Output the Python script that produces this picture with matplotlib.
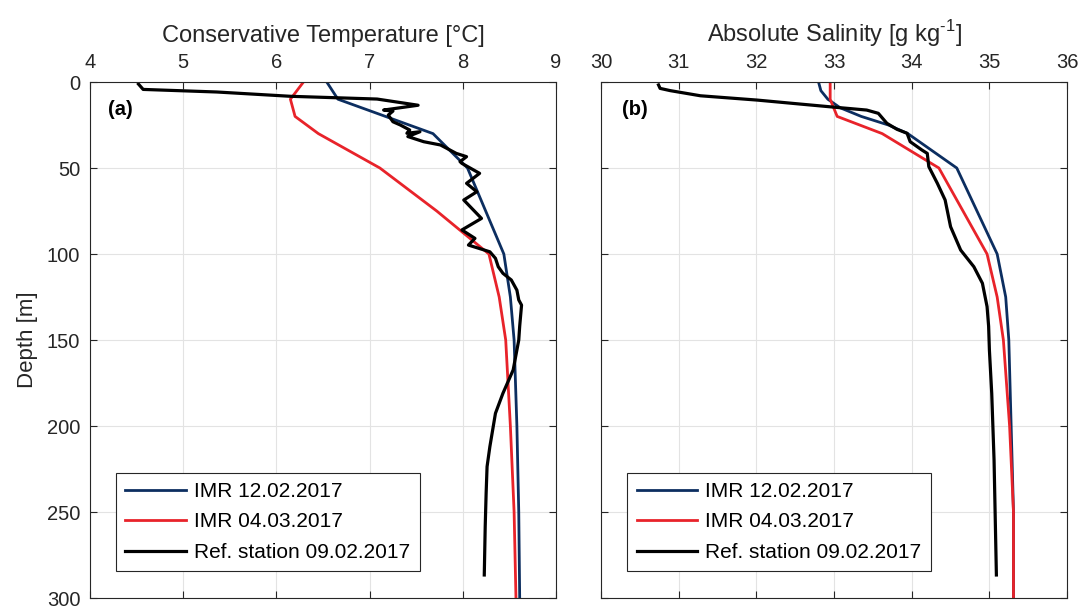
import numpy as np
import matplotlib
matplotlib.use('Agg')
import matplotlib.pyplot as plt

plt.rcParams['font.family'] = ['Liberation Sans', 'DejaVu Sans']
plt.rcParams['mathtext.fontset'] = 'custom'
plt.rcParams['mathtext.rm'] = 'Liberation Sans'

# IMR 12.02.2017 profile
imr1_t_depth = [0, 10, 30, 50, 100, 125, 150, 200, 250, 300]
imr1_temp = [6.54, 6.66, 7.68, 8.05, 8.44, 8.51, 8.55, 8.58, 8.60, 8.61]
imr1_s_depth = [0, 5, 10, 15, 20, 25, 30, 50, 100, 125, 150, 200, 250, 300]
imr1_sal = [32.80, 32.83, 32.92, 33.08, 33.35, 33.70, 33.95, 34.58, 35.10, 35.21, 35.25, 35.28, 35.31, 35.31]

# IMR 04.03.2017 profile
imr2_t_depth = [0, 10, 20, 30, 50, 75, 100, 125, 150, 200, 250, 300]
imr2_temp = [6.29, 6.15, 6.20, 6.45, 7.11, 7.72, 8.28, 8.39, 8.46, 8.51, 8.55, 8.57]
imr2_s_depth = [0, 10, 20, 30, 50, 100, 125, 150, 200, 250, 300]
imr2_sal = [32.95, 32.95, 33.04, 33.62, 34.35, 34.97, 35.10, 35.18, 35.26, 35.31, 35.31]

# Reference station 09.02.2017 (CTD)
ref_t_depth = [1.2, 4.3, 5.8, 8.3, 9.9, 13.5, 16.3, 16.9, 19.2, 23.1, 25, 27.9, 29.8, 28.9, 31.7,
               34.7, 36.6, 41.5, 43.4, 46.3, 47.3, 53.1, 58.9, 63.8, 68.6, 79.3, 86, 90.9, 94.8,
               98.7, 102.5, 107.4, 111.2, 115.1, 121, 126.7, 129.7, 142, 150, 167.4, 181, 192.6,
               212, 223.6, 239, 258.5, 286.6]
ref_temp = [4.52, 4.57, 5.36, 6.15, 7.08, 7.52, 7.15, 7.25, 7.20, 7.25, 7.33, 7.43, 7.40, 7.54, 7.41,
            7.58, 7.76, 7.93, 8.04, 7.97, 7.99, 8.18, 8.04, 8.15, 8.01, 8.20, 7.99, 8.13, 8.06,
            8.29, 8.35, 8.38, 8.43, 8.52, 8.58, 8.60, 8.63, 8.61, 8.60, 8.54, 8.43, 8.35,
            8.29, 8.26, 8.25, 8.24, 8.23]
ref_s_depth = [1.7, 3.7, 5, 8, 10.5, 12.8, 14.7, 16.3, 18.2, 24, 27.5, 29.8, 34.7, 39.5, 41.5, 49.2,
               58.9, 68.6, 84.1, 97.7, 107.4, 117, 130.6, 142, 155.8, 181, 219.8, 286.6]
ref_sal = [30.74, 30.76, 30.89, 31.28, 32.01, 32.56, 33.02, 33.42, 33.57, 33.68, 33.81, 33.94, 33.98,
           34.13, 34.20, 34.22, 34.33, 34.43, 34.50, 34.63, 34.80, 34.91, 34.97, 34.99, 35.00, 35.03,
           35.06, 35.09]

labels = ['IMR 12.02.2017', 'IMR 04.03.2017', 'Ref. station 09.02.2017']
colors = ['#0c2e60', '#e8232a', '#000000']

fig = plt.figure(figsize=(10.82, 6.08), dpi=100)
ax1 = fig.add_axes([0.0832, 0.0164, 0.4307, 0.8487])
ax2 = fig.add_axes([0.5555, 0.0164, 0.4307, 0.8487])

ax1.plot(imr1_temp, imr1_t_depth, color=colors[0], lw=2.0, label=labels[0])
ax1.plot(imr2_temp, imr2_t_depth, color=colors[1], lw=2.0, label=labels[1])
ax1.plot(ref_temp, ref_t_depth, color=colors[2], lw=2.3, label=labels[2])

ax2.plot(imr1_sal, imr1_s_depth, color=colors[0], lw=2.0, label=labels[0])
ax2.plot(imr2_sal, imr2_s_depth, color=colors[1], lw=2.0, label=labels[1])
ax2.plot(ref_sal, ref_s_depth, color=colors[2], lw=2.3, label=labels[2])

ax1.set_xlim(4, 9)
ax2.set_xlim(30, 36)
ax1.set_xticks(np.arange(4, 10, 1))
ax2.set_xticks(np.arange(30, 37, 1))
for ax in (ax1, ax2):
    ax.set_ylim(300, 0)
    ax.set_yticks(np.arange(0, 301, 50))
    ax.xaxis.set_ticks_position('both')
    ax.yaxis.set_ticks_position('both')
    ax.xaxis.set_label_position('top')
    ax.tick_params(axis='both', direction='in', labelsize=14.5, length=5, width=0.8, color='#262626',
                   labeltop=True, labelbottom=False, labelcolor='#262626', pad=7)
    ax.grid(True, color='#e3e3e3', lw=0.8)
    ax.set_axisbelow(True)
    for s in ax.spines.values():
        s.set_color('#262626')
        s.set_linewidth(0.8)
    leg = ax.legend(loc='lower left', bbox_to_anchor=(0.056, 0.052), fontsize=15, frameon=True,
                    fancybox=False, edgecolor='#262626', framealpha=1, handlelength=2.9,
                    borderpad=0.45, labelspacing=0.55, handletextpad=0.4, borderaxespad=0)
    leg.get_frame().set_linewidth(0.8)

ax2.tick_params(labelleft=False)
ax1.set_ylabel('Depth [m]', fontsize=16, color='#262626', labelpad=6)
ax1.set_xlabel('Conservative Temperature [°C]', fontsize=17, color='#262626', labelpad=8)
ax2.set_xlabel(r'Absolute Salinity [g kg$^{\text{-1}}$]', fontsize=17, color='#262626', labelpad=8)

ax1.text(0.039, 0.946, '(a)', transform=ax1.transAxes, fontsize=14.5, fontweight='bold', va='center')
ax2.text(0.046, 0.946, '(b)', transform=ax2.transAxes, fontsize=14.5, fontweight='bold', va='center')

fig.savefig('out.png', dpi=100)
